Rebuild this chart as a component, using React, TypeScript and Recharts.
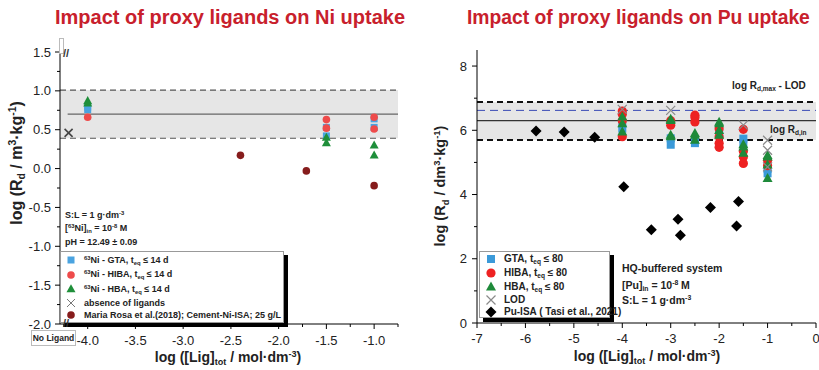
import React from 'react';
import { ScatterChart, Scatter, XAxis, YAxis, ReferenceArea, ReferenceLine } from 'recharts';

const FONT = '"Liberation Sans", Arial, Helvetica, sans-serif';

// ---------------- Ni chart (left) ----------------
const niXTicks = [-4.25, -4, -3.75, -3.5, -3.25, -3, -2.75, -2.5, -2.25, -2, -1.75, -1.5, -1.25, -1, -0.75];
const niYTicks = [-2, -1.75, -1.5, -1.25, -1, -0.75, -0.5, -0.25, 0, 0.25, 0.5, 0.75, 1, 1.25, 1.5];
const niXDomain = [-4.29, -0.75];
const niYDomain = [-2, 1.5];
const niBand = [0.39, 1.01];
const niRdIn = 0.7;
const niRdInStart = -4.21;

const niGtaX = [-4, -4, -1.5, -1.5, -1, -1];
const niGtaY = [0.79, 0.76, 0.53, 0.42, 0.64, 0.53];
const niHibaX = [-4, -1.5, -1.5, -1, -1];
const niHibaY = [0.66, 0.63, 0.52, 0.66, 0.51];
const niHbaX = [-4, -4, -1.5, -1.5, -1, -1];
const niHbaY = [0.87, 0.84, 0.4, 0.33, 0.3, 0.17];
const niAbsX = [-4.2];
const niAbsY = [0.46];
const niRosaX = [-2.4, -1.71, -1.0];
const niRosaY = [0.17, -0.03, -0.22];

// ---------------- Pu chart (right) ----------------
const puXTicks = [-7, -6.5, -6, -5.5, -5, -4.5, -4, -3.5, -3, -2.5, -2, -1.5, -1, -0.5, 0];
const puYTicks = [0, 1, 2, 3, 4, 5, 6, 7, 8];
const puXDomain = [-7, 0];
const puYDomain = [0, 8.5];
const puBand = [5.7, 6.88];
const puLodLine = 6.62;
const puRdIn = 6.3;

const puGtaX = [-4, -4, -3, -3, -2.5, -2.5, -2, -1.5, -1.5, -1, -1];
const puGtaY = [6.05, 6.2, 5.55, 5.75, 5.6, 5.7, 5.9, 5.74, 5.6, 4.66, 4.8];
const puHibaX = [-4, -4, -4, -4, -3, -3, -2.5, -2.5, -2.5, -2, -2, -2, -2, -1.5, -1.5, -1.5, -1.5, -1, -1];
const puHibaY = [6.6, 6.5, 6.3, 5.8, 6.3, 6.16, 6.47, 6.4, 6.26, 6.05, 5.8, 5.6, 5.47, 6.03, 5.35, 5.17, 4.97, 5.07, 4.9];
const puHbaX = [-4, -4, -4, -3, -3, -3, -3, -2.5, -2.5, -2.5, -2, -2, -2, -2, -1.5, -1.5, -1.5, -1, -1, -1, -1];
const puHbaY = [6.42, 6.21, 5.95, 6.35, 6.31, 5.85, 5.8, 5.9, 5.85, 5.69, 6.25, 6.21, 6.0, 5.85, 5.55, 5.48, 5.29, 5.22, 5.17, 4.92, 4.5];
const puLodX = [-4, -3, -1.5, -1, -1, -1];
const puLodY = [6.65, 6.62, 6.16, 5.69, 5.38, 4.86];
const puIsaX = [-5.78, -5.2, -4.57, -3.97, -3.4, -2.85, -2.8, -2.18, -1.6, -1.64];
const puIsaY = [5.98, 5.95, 5.78, 4.24, 2.9, 3.23, 2.73, 3.6, 3.78, 3.02];

const pts = (xs: number[], ys: number[]) => xs.map((x, i) => ({ x, y: ys[i] }));

// ---------------- shapes ----------------
const square = (fill: string, s: number) => (p: any) => (
  <rect x={p.cx - s / 2} y={p.cy - s / 2} width={s} height={s} fill={fill} />
);
const circle = (fill: string, r: number) => (p: any) => <circle cx={p.cx} cy={p.cy} r={r} fill={fill} />;
const triangle = (fill: string, s: number) => (p: any) => {
  const h = s * 0.9;
  return (
    <path
      d={`M${p.cx},${p.cy - h * 0.6}L${p.cx + s / 2},${p.cy + h * 0.4}L${p.cx - s / 2},${p.cy + h * 0.4}Z`}
      fill={fill}
    />
  );
};
const xmark = (stroke: string, s: number, w: number) => (p: any) => (
  <path
    d={`M${p.cx - s / 2},${p.cy - s / 2}L${p.cx + s / 2},${p.cy + s / 2}M${p.cx - s / 2},${p.cy + s / 2}L${p.cx + s / 2},${p.cy - s / 2}`}
    stroke={stroke}
    strokeWidth={w}
    fill="none"
  />
);
const diamond = (fill: string, s: number) => (p: any) => (
  <path d={`M${p.cx},${p.cy - s / 2}L${p.cx + s / 2},${p.cy}L${p.cx},${p.cy + s / 2}L${p.cx - s / 2},${p.cy}Z`} fill={fill} />
);

// ---------------- ticks ----------------
function makeTick(side: string, step: number, labels: boolean, fmt: (v: number) => string, off: number) {
  return (props: any) => {
    const { x, y, payload } = props;
    const v = payload.value;
    const r = v / step;
    const major = Math.abs(r - Math.round(r)) < 1e-6;
    const len = major ? 5 : 3;
    const tp = { fill: '#222', fontSize: 13, fontFamily: FONT };
    if (side === 'bottom') {
      return (
        <g>
          <line x1={x} y1={y} x2={x} y2={y + len} stroke="#000" />
          {major && labels ? (
            <text x={x} y={y + off} textAnchor="middle" {...tp}>{fmt(v)}</text>
          ) : null}
        </g>
      );
    }
    if (side === 'top') return <line x1={x} y1={y} x2={x} y2={y - len} stroke="#000" />;
    if (side === 'left') {
      return (
        <g>
          <line x1={x} y1={y} x2={x - len} y2={y} stroke="#000" />
          {major && labels ? (
            <text x={x - off} y={y + 4.6} textAnchor="end" {...tp}>{fmt(v)}</text>
          ) : null}
        </g>
      );
    }
    return <line x1={x} y1={y} x2={x + len} y2={y} stroke="#000" />;
  };
}

const f1 = (v: number) => v.toFixed(1);
const f0 = (v: number) => String(Math.round(v));

// ---------------- text helpers ----------------
const Sup = ({ c }: { c: string }) => <span style={{ fontSize: '0.65em', verticalAlign: '0.55em' }}>{c}</span>;
const Sub = ({ c }: { c: string }) => <span style={{ fontSize: '0.65em', verticalAlign: '-0.35em' }}>{c}</span>;

const T = ({ x, y, size = 10, color = '#222', children, center = false }: any) => (
  <div
    style={{
      position: 'absolute',
      left: x,
      top: y,
      fontSize: size,
      fontWeight: 700,
      fontFamily: FONT,
      lineHeight: 1,
      whiteSpace: 'nowrap',
      color,
      transform: center ? 'translateX(-50%)' : undefined,
    }}
  >
    {children}
  </div>
);

const Sym = ({ shape }: any) => (
  <svg width={12} height={12} style={{ position: 'absolute', left: 0, top: 0 }}>
    {shape({ cx: 6, cy: 6 })}
  </svg>
);

const LegendRow = ({ top, symX, textX, shape, children, size = 10 }: any) => (
  <div style={{ position: 'absolute', left: 0, top: top - 6, height: 12, width: '100%' }}>
    <div style={{ position: 'absolute', left: symX - 6, top: 0 }}>
      <Sym shape={shape} />
    </div>
    <div
      style={{
        position: 'absolute',
        left: textX,
        top: 6 - size * 0.5,
        fontSize: size,
        fontWeight: 700,
        fontFamily: FONT,
        lineHeight: 1,
        whiteSpace: 'nowrap',
        color: '#222',
      }}
    >
      {children}
    </div>
  </div>
);

const NI_BLUE = '#4aa3e0';
const NI_RED = '#ee4b4b';
const NI_GREEN = '#1f8f3a';
const NI_DARK = '#861c1c';
const PU_BLUE = '#3b9ad9';
const PU_RED = '#ee2222';
const PU_GREEN = '#1e8a3a';

export default function App() {
  const axisLine = { stroke: '#000', strokeWidth: 1 };
  return (
    <div style={{ position: 'absolute', left: 0, top: 0, width: 819, height: 370, background: '#fff', overflow: 'hidden' }}>
      {/* ---------- Left chart ---------- */}
      <div style={{ position: 'absolute', left: 0, top: 0 }}>
        <ScatterChart width={410} height={370} margin={{ top: 52, right: 12, bottom: 16, left: 0 }}>
          <XAxis
            type="number"
            dataKey="x"
            domain={niXDomain}
            allowDataOverflow
            ticks={niXTicks}
            interval={0}
            height={30}
            tickSize={0}
            tickMargin={0}
            tickLine={false}
            axisLine={axisLine}
            tick={makeTick('bottom', 0.5, true, f1, 20.5)}
          />
          <XAxis
            xAxisId="top"
            orientation="top"
            type="number"
            dataKey="x"
            domain={niXDomain}
            allowDataOverflow
            ticks={niXTicks}
            interval={0}
            height={0}
            tickSize={0}
            tickMargin={0}
            tickLine={false}
            axisLine={axisLine}
            tick={makeTick('top', 0.5, false, f1, 0)}
          />
          <YAxis
            type="number"
            dataKey="y"
            domain={niYDomain}
            allowDataOverflow
            ticks={niYTicks}
            interval={0}
            width={60}
            tickSize={0}
            tickMargin={0}
            tickLine={false}
            axisLine={axisLine}
            tick={makeTick('left', 0.5, true, f1, 9)}
          />
          <YAxis
            yAxisId="right"
            orientation="right"
            type="number"
            dataKey="y"
            domain={niYDomain}
            allowDataOverflow
            ticks={niYTicks}
            interval={0}
            width={0}
            tickSize={0}
            tickMargin={0}
            tickLine={false}
            axisLine={axisLine}
            tick={makeTick('right', 0.5, false, f1, 0)}
          />
          <ReferenceArea y1={niBand[0]} y2={niBand[1]} fill="#e6e6e6" fillOpacity={1} stroke="none" />
          <ReferenceLine y={niBand[1]} stroke="#555" strokeDasharray="6 4" strokeWidth={1.2} />
          <ReferenceLine y={niBand[0]} stroke="#555" strokeDasharray="6 4" strokeWidth={1.2} />
          <ReferenceLine
            segment={[
              { x: niRdInStart, y: niRdIn },
              { x: niXDomain[1], y: niRdIn },
            ]}
            stroke="#666"
            strokeWidth={1.2}
          />
          <Scatter data={pts(niGtaX, niGtaY)} shape={square(NI_BLUE, 7)} isAnimationActive={false} />
          <Scatter data={pts(niHibaX, niHibaY)} shape={circle(NI_RED, 3.8)} isAnimationActive={false} />
          <Scatter data={pts(niHbaX, niHbaY)} shape={triangle(NI_GREEN, 9)} isAnimationActive={false} />
          <Scatter data={pts(niAbsX, niAbsY)} shape={xmark('#444', 8, 1.6)} isAnimationActive={false} />
          <Scatter data={pts(niRosaX, niRosaY)} shape={circle(NI_DARK, 3.8)} isAnimationActive={false} />
        </ScatterChart>
      </div>

      {/* ---------- Right chart ---------- */}
      <div style={{ position: 'absolute', left: 410, top: 0 }}>
        <ScatterChart width={409} height={370} margin={{ top: 50, right: 3, bottom: 17, left: 0 }}>
          <XAxis
            type="number"
            dataKey="x"
            domain={puXDomain}
            allowDataOverflow
            ticks={puXTicks}
            interval={0}
            height={30}
            tickSize={0}
            tickMargin={0}
            tickLine={false}
            axisLine={axisLine}
            tick={makeTick('bottom', 1, true, f0, 19.5)}
          />
          <XAxis
            xAxisId="top"
            orientation="top"
            type="number"
            dataKey="x"
            domain={puXDomain}
            allowDataOverflow
            ticks={puXTicks}
            interval={0}
            height={0}
            tickSize={0}
            tickMargin={0}
            tickLine={false}
            axisLine={axisLine}
            tick={makeTick('top', 1, false, f0, 0)}
          />
          <YAxis
            type="number"
            dataKey="y"
            domain={puYDomain}
            allowDataOverflow
            ticks={puYTicks}
            interval={0}
            width={67}
            tickSize={0}
            tickMargin={0}
            tickLine={false}
            axisLine={axisLine}
            tick={makeTick('left', 2, true, f0, 10)}
          />
          <YAxis
            yAxisId="right"
            orientation="right"
            type="number"
            dataKey="y"
            domain={puYDomain}
            allowDataOverflow
            ticks={puYTicks}
            interval={0}
            width={0}
            tickSize={0}
            tickMargin={0}
            tickLine={false}
            axisLine={axisLine}
            tick={makeTick('right', 2, false, f0, 0)}
          />
          <ReferenceArea y1={puBand[0]} y2={puBand[1]} fill="#e6e6e6" fillOpacity={1} stroke="none" />
          <ReferenceLine y={puBand[1]} stroke="#111" strokeDasharray="6 4" strokeWidth={2} />
          <ReferenceLine y={puBand[0]} stroke="#111" strokeDasharray="6 4" strokeWidth={2} />
          <ReferenceLine y={puLodLine} stroke="#3a4bb5" strokeDasharray="8 5" strokeWidth={1} />
          <ReferenceLine y={puRdIn} stroke="#333" strokeWidth={1.2} />
          <Scatter data={pts(puGtaX, puGtaY)} shape={square(PU_BLUE, 8)} isAnimationActive={false} />
          <Scatter data={pts(puHibaX, puHibaY)} shape={circle(PU_RED, 4.6)} isAnimationActive={false} />
          <Scatter data={pts(puHbaX, puHbaY)} shape={triangle(PU_GREEN, 10)} isAnimationActive={false} />
          <Scatter data={pts(puLodX, puLodY)} shape={xmark('#8a8a8a', 9, 1.2)} isAnimationActive={false} />
          <Scatter data={pts(puIsaX, puIsaY)} shape={diamond('#000', 11)} isAnimationActive={false} />
        </ScatterChart>
      </div>

      {/* ---------- Titles ---------- */}
      <T x={55} y={7} size={20} color="#c8202c">Impact of proxy ligands on Ni uptake</T>
      <T x={467} y={7.5} size={19.3} color="#c8202c">Impact of proxy ligands on Pu uptake</T>

      {/* ---------- Left annotations ---------- */}
      <T x={65} y={210.5} size={9}>S:L = 1 g·dm<Sup c="-3" /></T>
      <T x={65} y={224} size={9}>[<Sup c="63" />Ni]<Sub c="in" /> = 10<Sup c="-8" /> M</T>
      <T x={65} y={237.5} size={9}>pH = 12.49 ± 0.09</T>

      {/* Left legend */}
      <div
        style={{
          position: 'absolute',
          left: 60,
          top: 251,
          width: 222,
          height: 70,
          border: '1px solid #999',
          background: '#fff',
          boxShadow: '4px 4px 0 #000',
        }}
      >
        <LegendRow top={8} symX={10} textX={23} size={9} shape={square(NI_BLUE, 7)}>
          <Sup c="63" />Ni - GTA, t<Sub c="eq" /> ≤ 14 d
        </LegendRow>
        <LegendRow top={22.5} symX={10} textX={23} size={9} shape={circle(NI_RED, 3.8)}>
          <Sup c="63" />Ni - HIBA, t<Sub c="eq" /> ≤ 14 d
        </LegendRow>
        <LegendRow top={37} symX={10} textX={23} size={9} shape={triangle(NI_GREEN, 9)}>
          <Sup c="63" />Ni - HBA, t<Sub c="eq" /> ≤ 14 d
        </LegendRow>
        <LegendRow top={51} symX={10} textX={23} size={9} shape={xmark('#777', 8, 1)}>
          absence of ligands
        </LegendRow>
        <LegendRow top={63} symX={10} textX={23} size={9} shape={circle(NI_DARK, 3.8)}>
          Maria Rosa et al.(2018); Cement-Ni-ISA; 25 g/L
        </LegendRow>
      </div>

      {/* No Ligand box & break marks */}
      <div
        style={{
          position: 'absolute',
          left: 31,
          top: 330,
          width: 43,
          height: 14,
          border: '1px solid #bbb',
          background: '#fff',
          fontSize: 8.5,
          fontWeight: 700,
          fontFamily: FONT,
          lineHeight: '14px',
          textAlign: 'center',
          color: '#222',
          whiteSpace: 'nowrap',
        }}
      >
        No Ligand
      </div>
      <div style={{ position: 'absolute', left: 59, top: 38, width: 3, height: 14, border: '1px solid #bbb', background: '#fff' }} />
      <T x={63} y={48} size={11} color="#333">//</T>
      <T x={63} y={318} size={11} color="#333">//</T>

      {/* Axis labels left */}
      <div
        style={{
          position: 'absolute',
          left: 18,
          top: 163,
          transform: 'translate(-50%, -50%) rotate(-90deg)',
          fontSize: 16,
          fontWeight: 700,
          fontFamily: FONT,
          whiteSpace: 'nowrap',
          lineHeight: 1,
          color: '#222',
        }}
      >
        log (R<Sub c="d" /> / m<Sup c="3" />·kg<Sup c="-1" />)
      </div>
      <T x={228} y={350} size={14} center>
        log ([Lig]<Sub c="tot" /> / mol·dm<Sup c="-3" />)
      </T>

      {/* ---------- Right annotations ---------- */}
      <T x={732} y={81} size={10}>log R<Sub c="d,max" /> - LOD</T>
      <T x={770} y={125} size={10}>log R<Sub c="d,in" /></T>
      <T x={622} y={263} size={10.5}>HQ-buffered system</T>
      <T x={622} y={280} size={10.5}>[Pu]<Sub c="in" /> = 10<Sup c="-8" /> M</T>
      <T x={622} y={295} size={10.5}>S:L = 1 g·dm<Sup c="-3" /></T>

      {/* Right legend */}
      <div
        style={{
          position: 'absolute',
          left: 479,
          top: 251,
          width: 129,
          height: 65,
          border: '1px solid #999',
          background: '#fff',
          boxShadow: '4px 4px 0 #000',
        }}
      >
        <LegendRow top={7} symX={11} textX={24} shape={square(PU_BLUE, 8)}>
          GTA, t<Sub c="eq" /> ≤ 80
        </LegendRow>
        <LegendRow top={20.5} symX={11} textX={24} shape={circle(PU_RED, 4.6)}>
          HIBA, t<Sub c="eq" /> ≤ 80
        </LegendRow>
        <LegendRow top={35} symX={11} textX={24} shape={triangle(PU_GREEN, 10)}>
          HBA, t<Sub c="eq" /> ≤ 80
        </LegendRow>
        <LegendRow top={48} symX={11} textX={24} shape={xmark('#8a8a8a', 9, 1.2)}>
          LOD
        </LegendRow>
        <LegendRow top={60} symX={11} textX={24} shape={diamond('#000', 11)}>
          Pu-ISA ( Tasi et al., 2021)
        </LegendRow>
      </div>

      {/* Axis labels right */}
      <div
        style={{
          position: 'absolute',
          left: 441,
          top: 186,
          transform: 'translate(-50%, -50%) rotate(-90deg)',
          fontSize: 14.5,
          fontWeight: 700,
          fontFamily: FONT,
          whiteSpace: 'nowrap',
          lineHeight: 1,
          color: '#222',
        }}
      >
        log (R<Sub c="d" /> / dm<Sup c="3" />·kg<Sup c="-1" />)
      </div>
      <T x={647} y={349} size={14} center>
        log ([Lig]<Sub c="tot" /> / mol·dm<Sup c="-3" />)
      </T>
    </div>
  );
}
